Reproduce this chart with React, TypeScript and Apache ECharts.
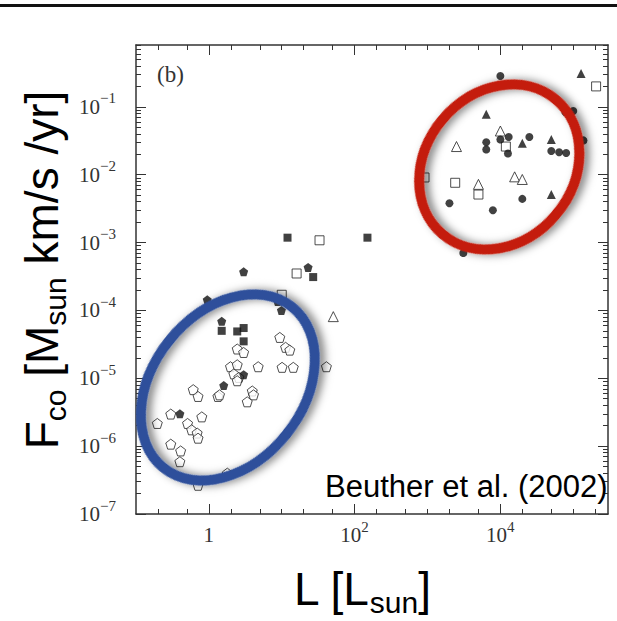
import React, { useEffect, useRef } from "react";
import * as echarts from "echarts";

// ---- data: [L (Lsun), Fco (Msun km/s /yr)] ----
const filledCircles: [number, number][] = [
  [1.0e4, 0.284], [7.8e4, 0.083], [1.0e5, 0.087], [6.4e3, 0.030], [6.4e3, 0.0235],
  [1.0e4, 0.033], [1.3e4, 0.036], [1.27e4, 0.0205], [2.5e4, 0.036], [5.0e4, 0.0224],
  [6.4e4, 0.0214], [8.0e4, 0.0209], [2.0e3, 0.0038], [7.9e3, 0.0030], [2.0e4, 0.0044],
  [3.1e3, 7.0e-4], [1.38e5, 0.032],
];
const filledTriangles: [number, number][] = [
  [1.28e5, 0.31], [6.4e3, 0.078], [2.0e4, 0.029], [5.0e4, 0.033], [5.0e4, 0.0051],
];
const openTriangles: [number, number][] = [
  [1.0e4, 0.044], [2.5e3, 0.026], [5.0e3, 0.0072], [1.57e4, 0.0093], [2.0e4, 0.0085], [51, 8.1e-5],
];
const openSquares: [number, number][] = [
  [2.06e5, 0.2], [1.19e4, 0.026], [910, 0.0091], [2.4e3, 0.0076], [5.0e3, 0.0051],
  [33, 1.08e-3], [16, 3.5e-4], [10, 1.7e-4],
];
const filledSquares: [number, number][] = [
  [12, 1.18e-3], [150, 1.18e-3], [27, 3.1e-4], [1.5, 5.0e-5], [2.45, 4.9e-5], [3.0, 5.5e-5], [3.0, 3.5e-5],
];
const filledPentagons: [number, number][] = [
  [3.0, 3.7e-4], [23, 4.3e-4], [0.95, 1.43e-4], [8.8, 1.35e-4], [9.9, 1.0e-4],
  [1.5, 6.9e-5], [3.0, 1.13e-5], [1.6, 7.8e-6], [0.4, 3.0e-6],
];
const openPentagons: [number, number][] = [
  [0.196, 2.16e-6], [0.3, 2.97e-6], [0.61, 6.8e-6], [0.71, 5.4e-6], [0.51, 2.16e-6],
  [0.58, 1.74e-6], [0.69, 1.56e-6], [0.71, 1.31e-6], [0.8, 2.7e-6], [0.3, 1.07e-6],
  [0.41, 8.5e-7], [0.4, 5.9e-7], [0.71, 2.65e-7], [1.79, 4.0e-7], [1.33, 5.4e-6],
  [1.98, 1.48e-5], [2.45, 1.58e-5], [2.45, 2.7e-5], [3.0, 2.4e-5], [4.75, 1.48e-5],
  [2.2, 1.16e-5], [2.58, 1.03e-5], [2.45, 9.2e-6], [3.94, 6.5e-6], [4.1, 5.7e-6],
  [3.36, 4.5e-6], [9.4, 4.0e-5], [11.3, 2.86e-5], [12.9, 2.6e-5], [10.1, 1.45e-5],
  [14.4, 1.45e-5], [41, 1.48e-5], [1.4, 5.7e-6],
];

// annotation ellipse centres (data space)
const redCenter: [number, number] = [9660, 0.013];
const blueCenter: [number, number] = [1.82, 7.33e-6];

// ---- axes ----
const X_MIN = 0.1;
const X_MAX = 3.0e5;
const Y_MIN = 1e-7;
const Y_MAX = 0.815;
const xLabelValues = [1, 100, 10000];
const xTickValues = [0.2, 0.5, 1, 2, 5, 10, 20, 50, 100, 200, 500, 1000, 2000, 5000, 10000, 20000, 50000, 100000, 200000];
const yLabelValues = [1e-7, 1e-6, 1e-5, 1e-4, 1e-3, 1e-2, 1e-1];
const yMinorMultipliers = [2, 3, 4, 5, 6, 7, 8, 9];

const PENTAGON = "path://M0,-10L9.511,-3.09L5.878,8.09L-5.878,8.09L-9.511,-3.09Z";
const AXIS_COLOR = "#333";
const LABEL_FONT = "'Liberation Serif', 'Times New Roman', serif";
const TITLE_FONT = "'Liberation Sans', Arial, sans-serif";

export default function App() {
  const ref = useRef<HTMLDivElement>(null);

  useEffect(() => {
    document.body.style.margin = "0";
    const chart = echarts.init(ref.current!, null, { renderer: "svg" });

    const yMinorTicks = yLabelValues
      .flatMap((d) => yMinorMultipliers.map((k) => k * d))
      .filter((v) => v <= Y_MAX);

    const labelRich = {
      b: { fontSize: 21, fontFamily: LABEL_FONT, color: "#333", lineHeight: 32 },
      s: { fontSize: 15, fontFamily: LABEL_FONT, color: "#333", lineHeight: 15, verticalAlign: "top" },
    };
    const lineStyle = { color: AXIS_COLOR, width: 1.5 };
    const tickLine = { color: AXIS_COLOR, width: 1 };

    const xAxisBase = (position: string, ticks: number[], len: number, showLine: boolean, labels: boolean) => ({
      type: "log",
      logBase: 10,
      min: X_MIN,
      max: X_MAX,
      position,
      axisLine: { show: showLine, onZero: false, lineStyle },
      axisTick: { show: true, inside: true, length: len, customValues: ticks, lineStyle: tickLine },
      axisLabel: labels
        ? {
            show: true,
            customValues: xLabelValues,
            margin: 5,
            formatter: (v: number) => {
              const e = Math.round(Math.log10(v));
              return e === 0 ? "{b|1}" : `{b|10}{s|${e}}`;
            },
            rich: labelRich,
          }
        : { show: false },
      splitLine: { show: false },
      minorTick: { show: false },
    });
    const yAxisBase = (position: string, ticks: number[], len: number, showLine: boolean, labels: boolean) => ({
      type: "log",
      logBase: 10,
      min: Y_MIN,
      max: Y_MAX,
      position,
      axisLine: { show: showLine, onZero: false, lineStyle },
      axisTick: { show: true, inside: true, length: len, customValues: ticks, lineStyle: tickLine },
      axisLabel: labels
        ? {
            show: true,
            customValues: yLabelValues,
            margin: 20,
            formatter: (v: number) => {
              const e = Math.round(Math.log10(v));
              return `{b|10}{s|\u2212${-e}}`;
            },
            rich: labelRich,
          }
        : { show: false },
      splitLine: { show: false },
      minorTick: { show: false },
    });

    const mk = (data: [number, number][], symbol: string, size: number, filled: boolean) => ({
      type: "scatter",
      data,
      symbol,
      symbolSize: size,
      xAxisIndex: 0,
      yAxisIndex: 0,
      z: filled ? 3 : 2,
      itemStyle: filled
        ? { color: "#111" }
        : { color: "#fff", borderColor: "#222", borderWidth: 1 },
      emphasis: { disabled: true },
    });

    chart.setOption({
      animation: false,
      backgroundColor: "#fff",
      grid: { left: 136, top: 45, width: 472, height: 469 },
      xAxis: [
        xAxisBase("bottom", xTickValues, 5, true, true),
        xAxisBase("top", xTickValues, 5, true, false),
        xAxisBase("bottom", xLabelValues, 10, false, false),
        xAxisBase("top", xLabelValues, 10, false, false),
      ],
      yAxis: [
        yAxisBase("left", yMinorTicks, 5, true, true),
        yAxisBase("right", yMinorTicks, 5, true, false),
        yAxisBase("left", yLabelValues, 10, false, false),
        yAxisBase("right", yLabelValues, 10, false, false),
      ],
      series: [
        mk(openPentagons, PENTAGON, 10, false),
        mk(openSquares, "rect", 9, false),
        mk(openTriangles, "triangle", 10, false),
        mk(filledPentagons, PENTAGON, 9, true),
        mk(filledSquares, "rect", 8, true),
        mk(filledTriangles, "triangle", 9, true),
        mk(filledCircles, "circle", 8, true),
      ],
    });

    const rc = chart.convertToPixel({ seriesIndex: 0 }, redCenter) as number[];
    const bc = chart.convertToPixel({ seriesIndex: 0 }, blueCenter) as number[];

    const shadow = {
      shadowBlur: 8,
      shadowColor: "rgba(0,0,0,0.5)",
      shadowOffsetX: 3,
      shadowOffsetY: 4,
    };

    chart.setOption({
      graphic: [
        { type: "rect", x: 0, y: 4, shape: { width: 617, height: 3 }, style: { fill: "#111" }, z: 100 },
        {
          type: "text",
          x: 157,
          y: 63,
          z: 100,
          style: { text: "(b)", fontSize: 23, fontFamily: LABEL_FONT, fill: "#333" },
        },
        {
          type: "ellipse",
          x: bc[0],
          y: bc[1],
          rotation: 0.897,
          z: 100,
          shape: { cx: 0, cy: 0, rx: 103, ry: 75 },
          style: { fill: "none", stroke: "#2F509B", lineWidth: 10, ...shadow },
        },
        {
          type: "ellipse",
          x: rc[0],
          y: rc[1],
          rotation: 0.873,
          z: 100,
          shape: { cx: 0, cy: 0, rx: 88, ry: 74 },
          style: { fill: "none", stroke: "#C41E0E", lineWidth: 10, ...shadow },
        },
        {
          type: "text",
          x: 325,
          y: 486,
          z: 101,
          style: {
            text: "Beuther et al. (2002)",
            fontSize: 31,
            fontFamily: TITLE_FONT,
            fill: "#000",
            verticalAlign: "middle",
          },
        },
        {
          type: "text",
          x: 362,
          y: 589,
          z: 101,
          style: {
            text: "{m|L [L}{s|sun}{m|]}",
            align: "center",
            verticalAlign: "middle",
            rich: {
              m: { fontSize: 46, fontFamily: TITLE_FONT, fill: "#000", lineHeight: 56 },
              s: { fontSize: 30, fontFamily: TITLE_FONT, fill: "#000", lineHeight: 20, verticalAlign: "bottom" },
            },
          },
        },
        {
          type: "text",
          x: 42,
          y: 270,
          rotation: Math.PI / 2,
          z: 101,
          style: {
            text: "{m|F}{s|co}{m| [M}{s|sun}{m| km/s /yr]}",
            align: "center",
            verticalAlign: "middle",
            rich: {
              m: { fontSize: 46, fontFamily: TITLE_FONT, fill: "#000", lineHeight: 56 },
              s: { fontSize: 30, fontFamily: TITLE_FONT, fill: "#000", lineHeight: 20, verticalAlign: "bottom" },
            },
          },
        },
      ],
    });

    return () => chart.dispose();
  }, []);

  return <div ref={ref} style={{ width: 617, height: 621 }} />;
}
